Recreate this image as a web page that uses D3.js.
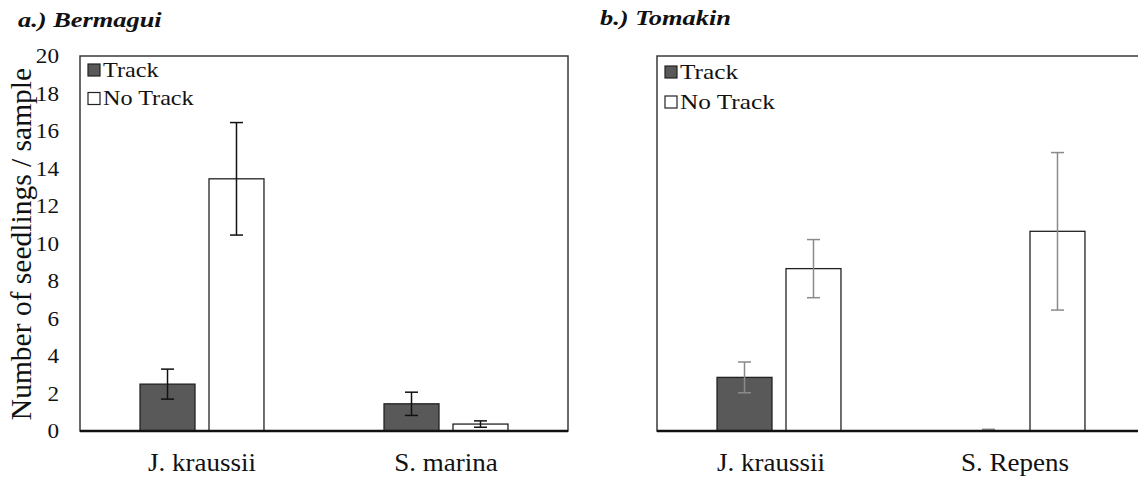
<!DOCTYPE html>
<html>
<head>
<meta charset="utf-8">
<script src="https://cdn.jsdelivr.net/npm/d3@7"></script>
<style>
  html, body { margin: 0; padding: 0; background: #fff; }
  svg { display: block; }
</style>
</head>
<body>
<svg id="chart" width="1138" height="479"></svg>
<script>
// Seedling counts per sample (mean and standard error) at two sites
const series = ["Track", "No Track"];

const bermaguiSpecies = ["J. kraussii", "S. marina"];
const bermaguiTrack = [2.5, 1.45];
const bermaguiTrackErr = [0.8, 0.62];
const bermaguiNoTrack = [13.45, 0.37];
const bermaguiNoTrackErr = [3.0, 0.17];

const tomakinSpecies = ["J. kraussii", "S. Repens"];
const tomakinTrack = [2.86, 0];
const tomakinTrackErr = [0.82, 0.09];
const tomakinNoTrack = [8.66, 10.65];
const tomakinNoTrackErr = [1.55, 4.2];

const yTicks = [0, 2, 4, 6, 8, 10, 12, 14, 16, 18, 20];

const FONT = "'Liberation Serif', 'Times New Roman', Times, serif";
const WIDEN = 1.13; // horizontal widening applied to the lettering
const svg = d3.select("#chart");
const plotTop = 56, plotBottom = 431, panelW = 488;
const y = d3.scaleLinear().domain([0, 20]).range([plotBottom, plotTop]);
const fills = { "Track": "#595959", "No Track": "#ffffff" };

function styleText(sel, size) {
  sel.style("font-family", FONT).style("font-size", size + "px").style("fill", "#111");
}

// place a text at (x,y) and widen it horizontally about its anchor
function putText(parent, x, yy, str, size, anchor, k) {
  const t = parent.append("text")
    .attr("transform", `translate(${x},${yy}) scale(${k || WIDEN},1)`)
    .attr("text-anchor", anchor || "start")
    .text(str);
  styleText(t, size);
  return t;
}

function rows(species, tr, trE, nt, ntE) {
  return species.map((s, i) => ({
    species: s,
    values: [
      { key: "Track", v: tr[i], e: trE[i] },
      { key: "No Track", v: nt[i], e: ntE[i] }
    ]
  }));
}

function panel(opts) {
  const { left, title, titleX, titleY, data, errColor, showY } = opts;
  const g = svg.append("g");

  const x0 = d3.scaleBand().domain(data.map(d => d.species))
    .range([left, left + panelW]).padding(0);
  const groupW = x0.bandwidth() * 0.508;
  const x1 = d3.scaleBand().domain(series)
    .range([-groupW / 2, groupW / 2]).paddingInner(0.203).paddingOuter(0);

  // plot frame
  g.append("rect")
    .attr("x", left).attr("y", plotTop)
    .attr("width", panelW).attr("height", plotBottom - plotTop)
    .attr("fill", "none").attr("stroke", "#3a3a3a").attr("stroke-width", 1.5);

  // bars
  const grp = g.selectAll("g.cat").data(data).join("g")
    .attr("class", "cat")
    .attr("transform", d => `translate(${x0(d.species) + x0.bandwidth() / 2},0)`);
  grp.selectAll("rect").data(d => d.values).join("rect")
    .attr("x", d => x1(d.key))
    .attr("y", d => y(d.v))
    .attr("width", x1.bandwidth())
    .attr("height", d => y(0) - y(d.v))
    .attr("fill", d => fills[d.key])
    .attr("stroke", d => d.v > 0 ? "#222" : "none")
    .attr("stroke-width", 1.3);

  // error bars
  const eb = grp.selectAll("g.err").data(d => d.values).join("g")
    .attr("class", "err")
    .attr("transform", d => `translate(${x1(d.key) + x1.bandwidth() / 2},0)`)
    .attr("stroke", errColor).attr("stroke-width", 1.5);
  eb.append("line")
    .attr("y1", d => y(d.v + d.e)).attr("y2", d => y(Math.max(0, d.v - d.e)));
  eb.append("line").attr("x1", -6.5).attr("x2", 6.5)
    .attr("y1", d => y(d.v + d.e)).attr("y2", d => y(d.v + d.e));
  eb.filter(d => d.v - d.e > 0).append("line").attr("x1", -6.5).attr("x2", 6.5)
    .attr("y1", d => y(d.v - d.e)).attr("y2", d => y(d.v - d.e));

  // category axis
  const xa = g.append("g").attr("transform", `translate(${opts.labelDx},${plotBottom})`)
    .call(d3.axisBottom(x0).tickSize(0).tickPadding(22));
  xa.select(".domain").remove();
  xa.selectAll("text").attr("transform", "scale(1.06,1)");
  styleText(xa.selectAll("text"), 25.5);
  g.append("line")
    .attr("x1", left).attr("x2", left + panelW)
    .attr("y1", plotBottom).attr("y2", plotBottom)
    .attr("stroke", "#111").attr("stroke-width", 2.5);

  if (showY) {
    const ya = g.append("g").attr("transform", `translate(${left},0)`)
      .call(d3.axisLeft(y).tickValues(yTicks).tickSize(0).tickPadding(21));
    ya.select(".domain").remove();
    ya.selectAll("text").attr("x", -21 / WIDEN).attr("transform", `scale(${WIDEN},1)`);
    styleText(ya.selectAll("text"), 20.5);
  }

  // legend
  const lg = g.append("g").attr("transform", `translate(${left + 8},${plotTop + opts.legendDy})`);
  series.forEach((s, i) => {
    lg.append("rect").attr("x", 0).attr("y", i * opts.legendGap)
      .attr("width", 12).attr("height", 12)
      .attr("fill", fills[s]).attr("stroke", "#222").attr("stroke-width", 1.2);
    putText(lg, 15, i * opts.legendGap + 12.5, s, 22, "start", opts.legendWiden);
  });

  // panel title
  putText(svg, titleX, titleY, title, 22, "start", 1.2)
    .style("font-weight", "bold").style("font-style", "italic");
}

panel({
  left: 80, title: "a.) Bermagui", titleX: 18, titleY: 27, errColor: "#111", showY: true,
  legendDy: 8, legendGap: 28.5, legendWiden: 1.1, labelDx: 0,
  data: rows(bermaguiSpecies, bermaguiTrack, bermaguiTrackErr, bermaguiNoTrack, bermaguiNoTrackErr)
});
panel({
  left: 657, title: "b.) Tomakin", titleX: 600, titleY: 25, errColor: "#8a8a8a", showY: false,
  legendDy: 10, legendGap: 30, legendWiden: 1.15, labelDx: -8,
  data: rows(tomakinSpecies, tomakinTrack, tomakinTrackErr, tomakinNoTrack, tomakinNoTrackErr)
});

// shared y-axis title
styleText(svg.append("text")
  .attr("transform", "translate(31,244) rotate(-90)")
  .attr("text-anchor", "middle")
  .text("Number of seedlings / sample"), 29.5);
</script>
</body>
</html>
